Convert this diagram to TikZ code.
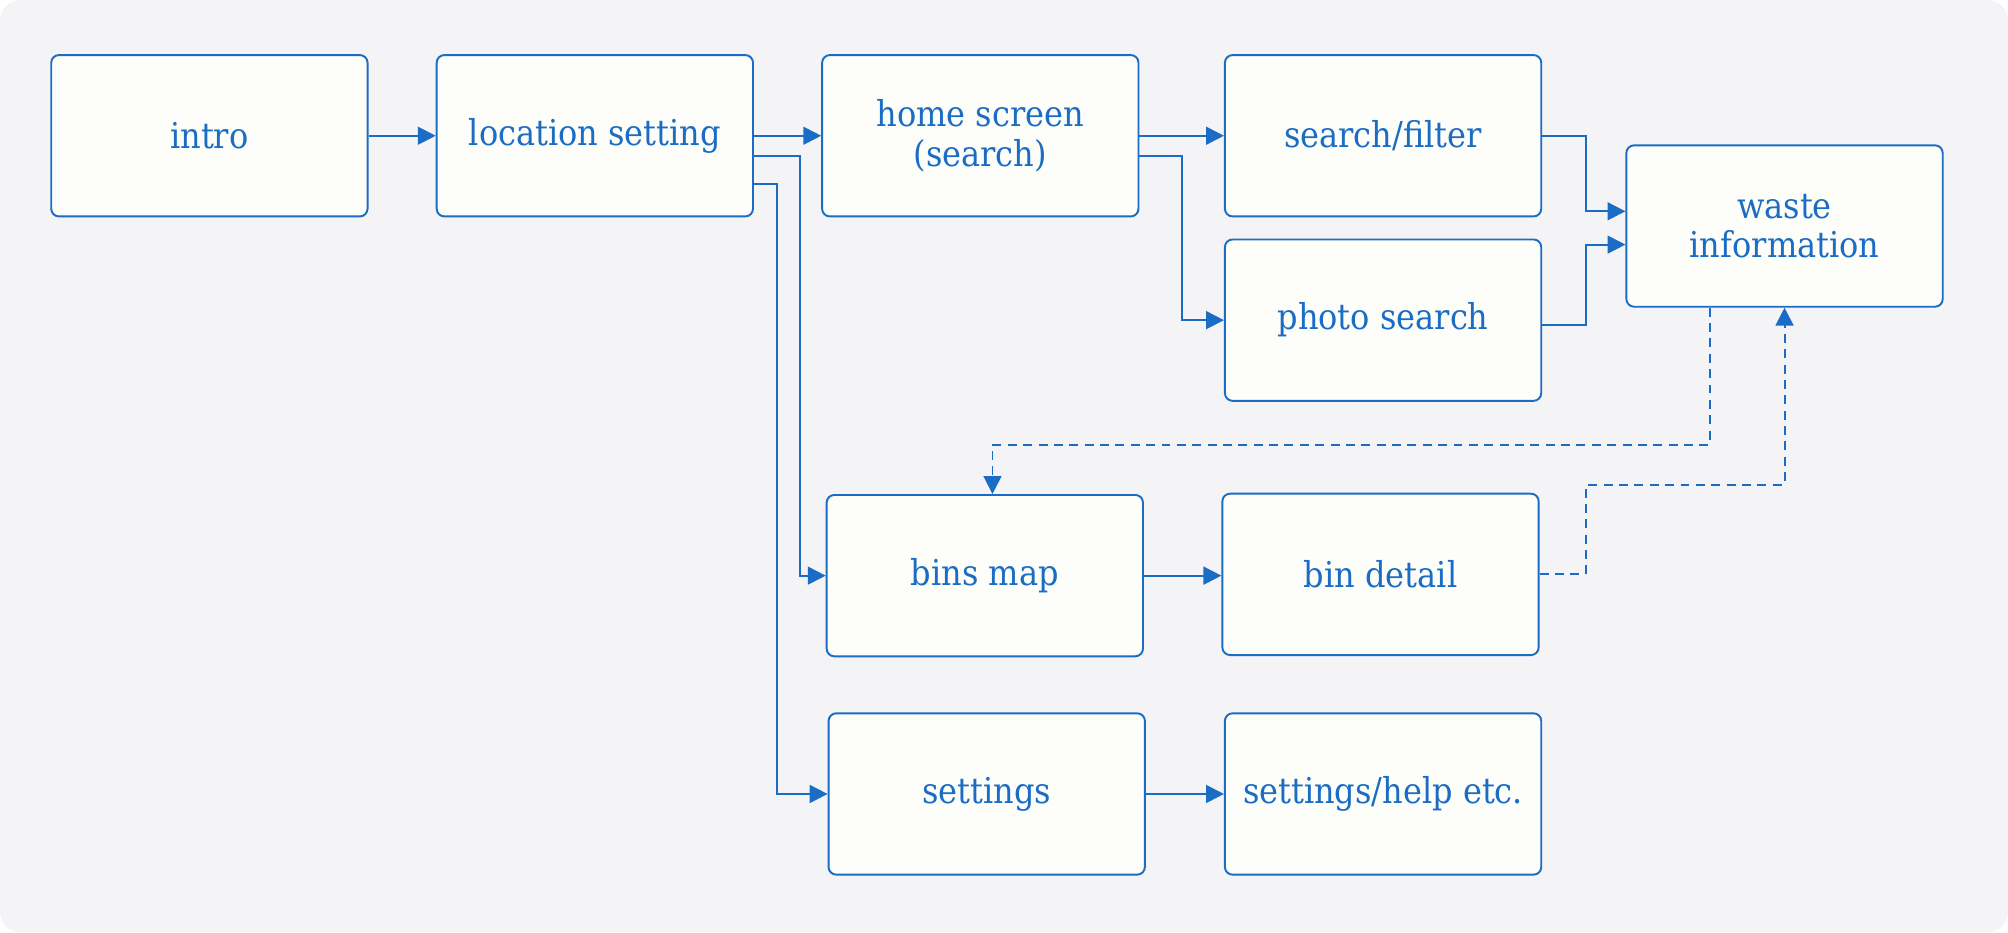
\documentclass[tikz,border=0pt]{standalone}
\usepackage{fontspec}
\setmainfont{DejaVu Serif Condensed}
\usetikzlibrary{arrows.meta}
\definecolor{flowblue}{HTML}{1A6CC4}
\definecolor{boxwhite}{HTML}{FDFEFA}
\definecolor{bggray}{HTML}{F4F4F6}

\begin{document}
\begin{tikzpicture}[x=0.5pt, y=-0.5pt,
    screen/.style={draw=flowblue, fill=boxwhite, rounded corners=3pt,
        minimum width=123.5pt, minimum height=63pt, inner sep=0pt,
        line width=0.75pt, text=flowblue, align=center,
        font=\fontsize{13.9}{15.5}\selectfont},
    flow/.style={draw=flowblue, line width=0.75pt,
        -{Triangle[length=7pt,width=7pt]}},
    backflow/.style={flow, dash pattern=on 3.5pt off 2.5pt}]
    \useasboundingbox (0,0) rectangle (1568,728);
    \fill[bggray, rounded corners=8pt] (0,0) rectangle (1568,728);

    \node[screen] (intro) at (163.5,106) {intro};
    \node[screen] (location) at (464.5,106) {location setting};
    \node[screen] (home) at (765.5,106) {home screen\\(search)};
    \node[screen] (filter) at (1080,106) {search/filter};
    \node[screen] (photo) at (1080,250) {photo search};
    \node[screen] (waste) at (1393.5,176.5) {waste\\information};
    \node[screen] (binsmap) at (769,449.5) {bins map};
    \node[screen] (bindetail) at (1078,448.5) {bin detail};
    \node[screen] (settings) at (770.5,620) {settings};
    \node[screen] (help) at (1080,620) {settings/help etc.};

    \draw[flow] (intro) -- (location);
    \draw[flow] (location) -- (home);
    \draw[flow] ([yshift=-8pt]location.east) -- ++(36,0)
        |- (binsmap.west);
    \draw[flow] ([yshift=-19pt]location.east) -- ++(18,0)
        |- (settings.west);
    \draw[flow] (home) -- (filter);
    \draw[flow] ([yshift=-8pt]home.east) -- ++(33,0) |- (photo.west);
    \draw[flow] (filter.east) -- ++(34,0)
        |- ([yshift=5.75pt]waste.west);
    \draw[flow] ([yshift=-2pt]photo.east) -- ++(34,0)
        |- ([yshift=-7.25pt]waste.west);
    \draw[flow] (binsmap.east) -- (binsmap.east -| bindetail.west);
    \draw[flow] (settings) -- (help);
    \draw[backflow] ([xshift=-29.25pt]waste.south) -- ++(0,107)
        -| ([xshift=3pt]binsmap.north);
    \draw[backflow] (bindetail.east) -- ++(36,0) -- ++(0,-70)
        -| (waste.south);
\end{tikzpicture}
\end{document}
